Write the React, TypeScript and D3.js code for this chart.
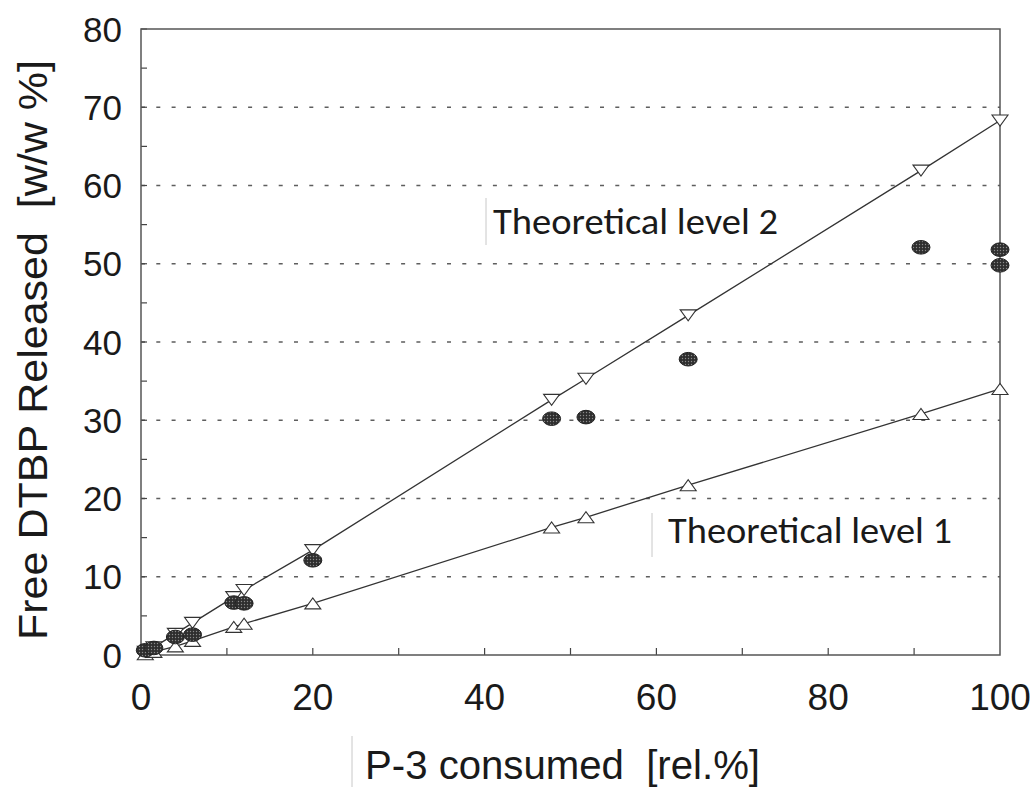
import React from "react";
import * as d3 from "d3";

const xValues = [0.5, 1.5, 4, 6, 10.8, 12, 20, 47.8, 51.8, 63.7, 90.8, 100];
const level1 = [0.1, 0.4, 1.1, 1.8, 3.6, 4.0, 6.6, 16.3, 17.6, 21.7, 30.8, 34.0];
const level2 = [0.4, 1.0, 2.7, 4.1, 7.4, 8.3, 13.4, 32.6, 35.3, 43.4, 61.9, 68.3];
const measuredX = [0.5, 1.5, 4, 6, 10.8, 12, 20, 47.8, 51.8, 63.7, 90.8, 100, 100];
const measuredY = [0.6, 0.9, 2.3, 2.6, 6.7, 6.6, 12.1, 30.2, 30.4, 37.8, 52.1, 51.8, 49.8];

const xTickLabels = [0, 20, 40, 60, 80, 100];
const yTickLabels = [0, 10, 20, 30, 40, 50, 60, 70, 80];
const gridValues = [10, 20, 30, 40, 50, 60, 70];

const W = 1035;
const H = 787;
const L = 141, R = 1000, T = 29, B = 655;

export default function App() {
  const x = d3.scaleLinear().domain([0, 100]).range([L, R]);
  const y = d3.scaleLinear().domain([0, 80]).range([B, T]);
  const line = d3.line<[number, number]>().x((d) => x(d[0])).y((d) => y(d[1]));
  const pts1: [number, number][] = xValues.map((v, i) => [v, level1[i]]);
  const pts2: [number, number][] = xValues.map((v, i) => [v, level2[i]]);
  const yMinor = d3.range(0, 81, 5);
  const xMinor = d3.range(10, 100, 10);
  const tw = 8, th = 5.5;
  const upTri = (cx: number, cy: number) =>
    `M${cx - tw},${cy + th}L${cx + tw},${cy + th}L${cx},${cy - th}Z`;
  const downTri = (cx: number, cy: number) =>
    `M${cx - tw},${cy - th}L${cx + tw},${cy - th}L${cx},${cy + th}Z`;
  const axisFont = "'Liberation Sans', Arial, sans-serif";
  const labelFont = "Carlito, Lato, 'Open Sans', sans-serif";
  return (
    <svg
      width={W}
      height={H}
      style={{ position: "absolute", left: 0, top: 0, background: "#fff" }}
    >
      <defs>
        <pattern id="dots" width="3" height="3" patternUnits="userSpaceOnUse">
          <rect width="3" height="3" fill="#2e2e2e" />
          <circle cx="1.5" cy="1.5" r="0.7" fill="#8a8a8a" />
        </pattern>
      </defs>
      {/* grid */}
      {gridValues.map((g) => (
        <line
          key={g}
          x1={L}
          x2={R}
          y1={y(g)}
          y2={y(g)}
          stroke="#5e5e5e"
          strokeWidth={1.7}
          strokeDasharray="4 11.3"
        />
      ))}
      {/* ticks */}
      {yMinor.map((v) => (
        <line key={"yt" + v} x1={L} x2={L + 6} y1={y(v)} y2={y(v)} stroke="#444" strokeWidth={1.2} />
      ))}
      {xMinor.map((v) => (
        <line key={"xt" + v} x1={x(v)} x2={x(v)} y1={B} y2={B - 7} stroke="#444" strokeWidth={1.2} />
      ))}
      {/* frame */}
      <rect x={L} y={T} width={R - L} height={B - T} fill="none" stroke="#555" strokeWidth={1.5} />
      {/* theoretical lines */}
      <path d={line(pts2) || ""} fill="none" stroke="#333" strokeWidth={1.3} />
      <path d={line(pts1) || ""} fill="none" stroke="#333" strokeWidth={1.3} />
      {/* markers */}
      {pts1.map((p, i) => (
        <path key={"u" + i} d={upTri(x(p[0]), y(p[1]))} fill="#fff" stroke="#333" strokeWidth={1.1} />
      ))}
      {pts2.map((p, i) => (
        <path key={"d" + i} d={downTri(x(p[0]), y(p[1]))} fill="#fff" stroke="#333" strokeWidth={1.1} />
      ))}
      {measuredX.map((v, i) => (
        <ellipse
          key={"m" + i}
          cx={x(v)}
          cy={y(measuredY[i])}
          rx={9}
          ry={6.8}
          fill="url(#dots)"
          stroke="#222"
          strokeWidth={1}
        />
      ))}
      {/* y tick labels */}
      {yTickLabels.map((v) => (
        <text
          key={"yl" + v}
          x={122}
          y={y(v)}
          dy="0.36em"
          textAnchor="end"
          fontFamily={axisFont}
          fontSize={35}
          fill="#1a1a1a"
        >
          {v}
        </text>
      ))}
      {/* x tick labels */}
      {xTickLabels.map((v) => (
        <text
          key={"xl" + v}
          x={x(v)}
          y={710}
          textAnchor="middle"
          fontFamily={axisFont}
          fontSize={37}
          fill="#1a1a1a"
        >
          {v}
        </text>
      ))}
      {/* axis titles */}
      <text
        transform={`translate(47,350) rotate(-90)`}
        textAnchor="middle"
        fontFamily={axisFont}
        fontSize={40}
        textLength={580}
        lengthAdjust="spacingAndGlyphs"
        fill="#1a1a1a"
        style={{ whiteSpace: "pre" }}
      >
        Free DTBP Released  [w/w %]
      </text>
      <line x1={352} x2={352} y1={736} y2={787} stroke="#c8c8c8" strokeWidth={1} />
      <text
        x={365}
        y={779}
        fontFamily={axisFont}
        fontSize={41}
        textLength={395}
        lengthAdjust="spacingAndGlyphs"
        fill="#1a1a1a"
        style={{ whiteSpace: "pre" }}
      >
        P-3 consumed  [rel.%]
      </text>
      {/* annotations */}
      <line x1={486} x2={486} y1={198} y2={245} stroke="#c8c8c8" strokeWidth={1} />
      <text x={493} y={234} fontFamily={labelFont} fontSize={37} textLength={285} lengthAdjust="spacingAndGlyphs" fill="#1a1a1a">
        Theoretical level 2
      </text>
      <line x1={652} x2={652} y1={513} y2={557} stroke="#c8c8c8" strokeWidth={1} />
      <text x={668} y={543} fontFamily={labelFont} fontSize={37} textLength={284} lengthAdjust="spacingAndGlyphs" fill="#1a1a1a">
        Theoretical level 1
      </text>
    </svg>
  );
}
